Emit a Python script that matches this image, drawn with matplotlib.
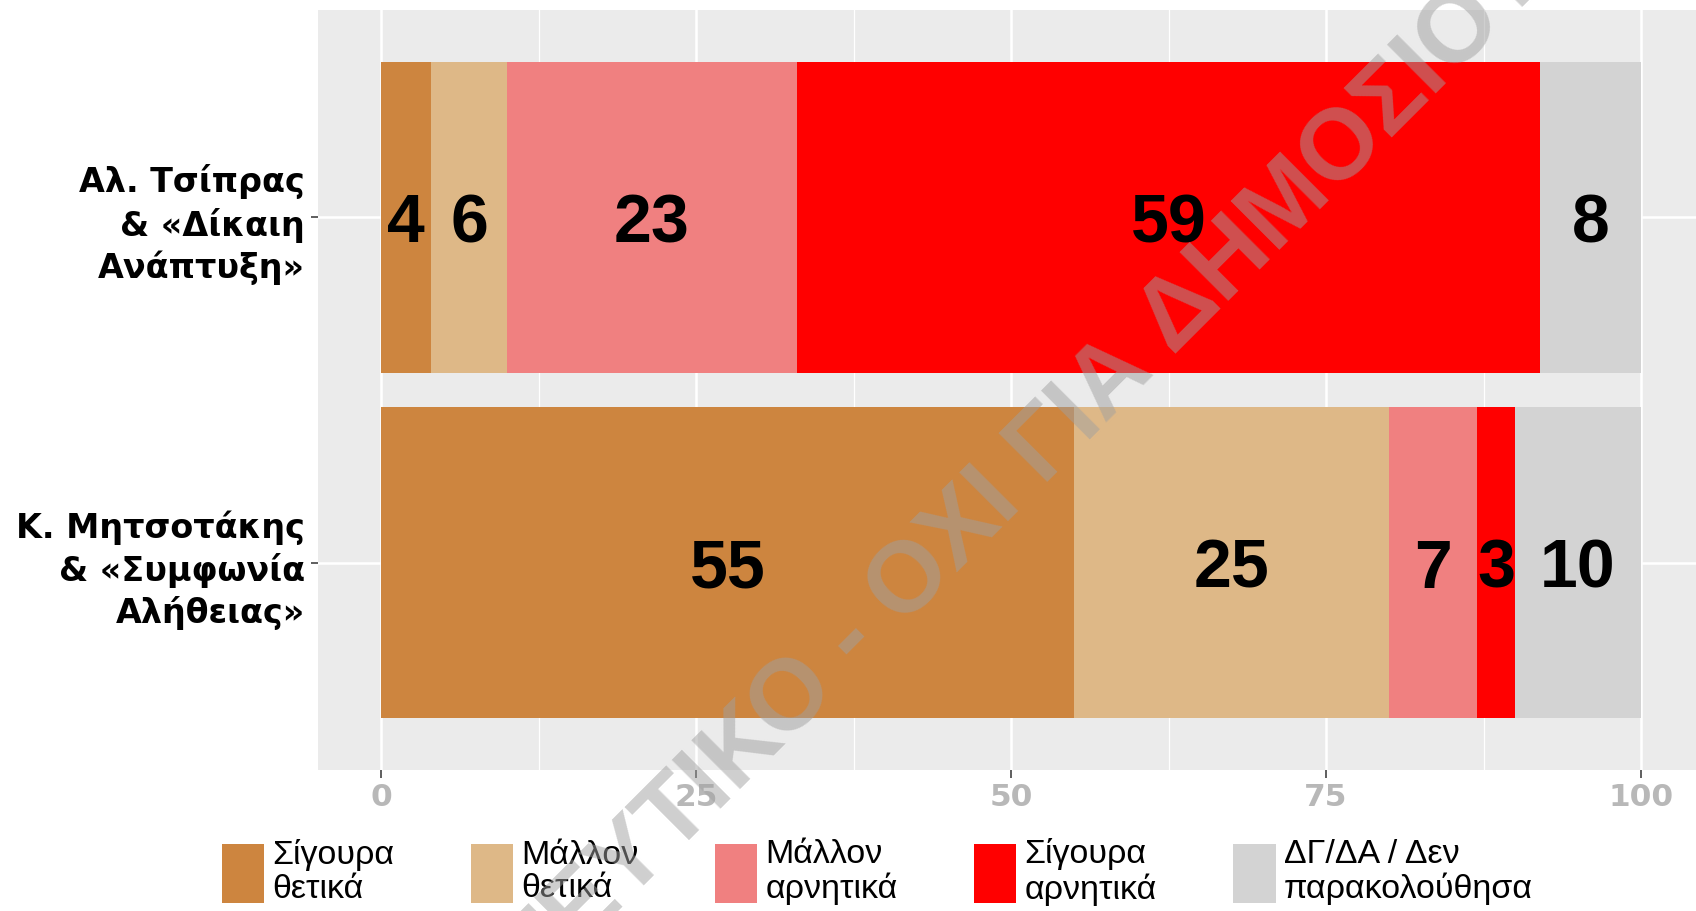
import matplotlib.pyplot as plt

plt.rcParams['font.family'] = ['Liberation Sans', 'DejaVu Sans']

# data
leaders = ['Κ. Μητσοτάκης\n& «Συμφωνία\nΑλήθειας»',
           'Αλ. Τσίπρας\n& «Δίκαιη\nΑνάπτυξη»']
answers = ['Σίγουρα\nθετικά', 'Μάλλον\nθετικά', 'Μάλλον\nαρνητικά',
           'Σίγουρα\nαρνητικά', 'ΔΓ/ΔΑ / Δεν\nπαρακολούθησα']
mitsotakis = [55, 25, 7, 3, 10]
tsipras = [4, 6, 23, 59, 8]
colors = ['#CD853F', '#DEB887', '#F08080', '#FF0000', '#D3D3D3']
xticks = [0, 25, 50, 75, 100]

fig = plt.figure(figsize=(16.96, 9.11), dpi=100)
ax = fig.add_axes([318 / 1696, 1 - 770 / 911, 1386 / 1696, 760 / 911])
ax.set_facecolor('#EBEBEB')

ypos = [1, 2]
left = [0, 0]
for i, ans in enumerate(answers):
    vals = [mitsotakis[i], tsipras[i]]
    bars = ax.barh(ypos, vals, left=left, height=0.9, color=colors[i],
                   label=ans, zorder=2)
    anns = ax.bar_label(bars, labels=[str(v) for v in vals],
                        label_type='center', fontsize=49, fontweight='bold',
                        color='black')
    for a in anns:
        a.set_va('center_baseline')
    left = [left[0] + vals[0], left[1] + vals[1]]

ax.set_xlim(-5, 105)
ax.set_ylim(0.4, 2.6)
ax.set_xticks(xticks)
ax.set_xticks([12.5, 37.5, 62.5, 87.5], minor=True)
ax.set_xticklabels([str(t) for t in xticks], fontsize=22.5, fontweight='bold',
                   color='#B8B8B8', family='DejaVu Sans')
ax.set_yticks(ypos)
ax.set_yticklabels(leaders, fontsize=24, fontweight='bold', color='black',
                   family='DejaVu Sans')
for t in ax.get_yticklabels():
    t.set_linespacing(1.3)

ax.grid(True, which='major', color='white', linewidth=1.8, zorder=1)
ax.grid(True, which='minor', axis='x', color='white', linewidth=0.9, zorder=1)
ax.set_axisbelow(True)
ax.tick_params(axis='x', which='major', length=5.5, width=1.1,
               color='#333333', pad=4)
ax.tick_params(axis='y', which='major', length=5, width=1.1,
               color='#333333', pad=4.5)
ax.tick_params(axis='x', which='minor', length=0)
for s in ax.spines.values():
    s.set_visible(False)

leg = fig.legend(loc='center left', bbox_to_anchor=(222 / 1696, 1 - 872 / 911),
                 ncol=5, frameon=False, fontsize=24.5, handlelength=1.24,
                 handleheight=2.3, handletextpad=0.24, columnspacing=2.25,
                 borderpad=0, borderaxespad=0)
for t in leg.get_texts():
    t.set_linespacing(1.12)

# watermark
fig.text(985 / 1696, 1 - 508 / 911,
         'ΕΜΠΙΣΤΕΥΤΙΚΟ - ΟΧΙ ΓΙΑ ΔΗΜΟΣΙΟΤΗΤΑ', rotation=45,
         rotation_mode='anchor', ha='center', va='center', fontsize=72,
         fontweight='bold', color='#A0A0A0', alpha=0.5, zorder=10)

plt.savefig('out.png', dpi=100)
